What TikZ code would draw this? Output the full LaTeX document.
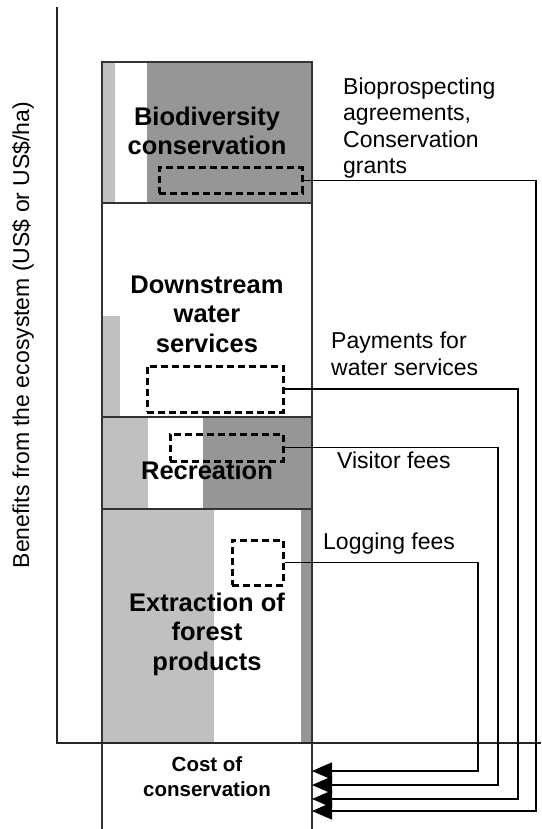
\documentclass[tikz,border=0pt]{standalone}
\usepackage{fontspec}
\setmainfont{Liberation Sans}
\usetikzlibrary{arrows.meta}
\definecolor{lg}{HTML}{C0C0C0}
\definecolor{dg}{HTML}{969696}
\begin{document}
\begin{tikzpicture}[x=1pt,y=-1pt,
  axisline/.style={line width=1.6pt,draw=black!85},
  colline/.style={line width=1.6pt,draw=black!80},
  dbox/.style={draw=black,line width=3pt,dash pattern=on 7pt off 4pt,inner sep=0pt},
  conn/.style={line width=1.3pt,draw=black},
  arr/.style={conn,-{Triangle[length=20pt,width=17pt]}},
  bigt/.style={font=\bfseries\fontsize{25.5}{29.5}\selectfont,align=center,inner sep=0pt},
  smallt/.style={font=\bfseries\fontsize{20.5}{25}\selectfont,align=center,inner sep=0pt},
  lab/.style={font=\fontsize{23}{26.5}\selectfont,align=left,anchor=west,inner sep=0pt},
]
\useasboundingbox (0,0) rectangle (541,829);
% section fills
\fill[lg] (102,62) rectangle (115,203);
\fill[dg] (147,62) rectangle (312,203);
\fill[lg] (102,316) rectangle (120,417);
\fill[lg] (102,417) rectangle (148,509);
\fill[dg] (203,417) rectangle (312,509);
\fill[lg] (102,509) rectangle (214,743);
\fill[dg] (301,509) rectangle (312,743);
% column borders
\draw[colline] (102,829) -- (102,62) -- (312,62) -- (312,829);
\draw[colline] (102,203) -- (312,203);
\draw[colline] (102,417) -- (312,417);
\draw[colline] (102,509) -- (312,509);
% axes
\draw[axisline] (57,7) -- (57,743) -- (541,743);
% section texts
\node[bigt] (bio) at (207,131) {Biodiversity\\conservation};
\node[bigt] (water) at (207,314) {Downstream\\water\\services};
\node[bigt] (rec) at (207,470) {Recreation};
\node[bigt] (ext) at (207,634) {Extraction of\\forest\\products};
\node[smallt] (cost) at (207,777) {Cost of\\conservation};
% y label
\node[rotate=90,font=\fontsize{23}{27}\selectfont,inner sep=0pt] (ylab) at (23,335) {Benefits from the ecosystem (US\$ or US\$/ha)};
% dashed boxes
\node[dbox,minimum width=143pt,minimum height=25pt] (biobox) at (230.5,180.5) {};
\node[dbox,minimum width=136pt,minimum height=46pt] (waterbox) at (215,389) {};
\node[dbox,minimum width=113pt,minimum height=27pt] (recbox) at (226.5,447.5) {};
\node[dbox,minimum width=51pt,minimum height=45pt] (extbox) at (257.5,562.5) {};
% payment labels
\node[lab] (lbio) at (343,128) {Bioprospecting\\agreements,\\Conservation\\grants};
\node[lab] (lwater) at (331,354) {Payments for\\water services};
\node[lab] (lrec) at (337,460) {Visitor fees};
\node[lab] (lext) at (323,544) {Logging fees};
% arrow targets and corners
\coordinate (t1) at (312,771);
\coordinate (t2) at (312,785);
\coordinate (t3) at (312,799);
\coordinate (t4) at (312,811);
\coordinate (c1) at (478,771);
\coordinate (c2) at (498,785);
\coordinate (c3) at (518,799);
\coordinate (c4) at (536,811);
% connectors
\draw[arr] (extbox.east) -| (c1) -- (t1);
\draw[arr] (recbox.east) -| (c2) -- (t2);
\draw[arr] (waterbox.east) -| (c3) -- (t3);
\draw[arr] (biobox.east) -| (c4) -- (t4);
\end{tikzpicture}
\end{document}
